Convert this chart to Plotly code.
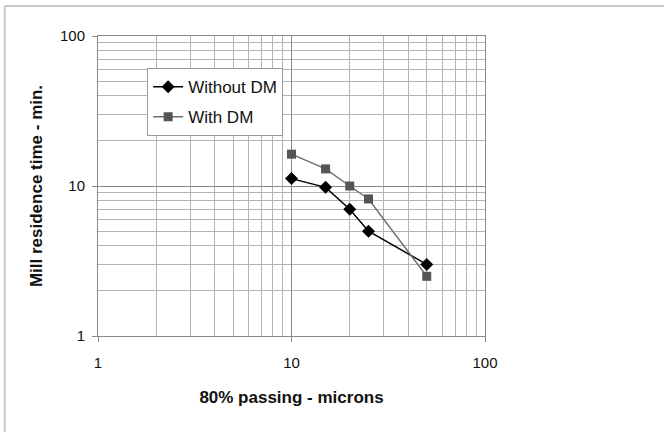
import plotly.graph_objects as go

# Data
passing_microns = [10, 15, 20, 25, 50]
without_dm = [11.2, 9.8, 7.0, 5.0, 3.0]
with_dm = [16.3, 13.0, 10.0, 8.2, 2.5]

tick_vals = [1, 10, 100]
tick_text = ["1", "10", "100"]

FONT = "Liberation Sans, Arial, sans-serif"

fig = go.Figure()
fig.add_trace(go.Scatter(
    x=passing_microns, y=without_dm, name="Without DM", mode="lines+markers",
    line=dict(color="#000000", width=1.5),
    marker=dict(symbol="diamond", size=10, color="#000000"),
    legendgroup="a",
))
fig.add_trace(go.Scatter(
    x=passing_microns, y=with_dm, name="With DM", mode="lines+markers",
    line=dict(color="#707070", width=1.5),
    marker=dict(symbol="square", size=9, color="#555555"),
    legendgroup="b",
))

axis_common = dict(
    type="log",
    tickvals=tick_vals, ticktext=tick_text,
    showgrid=True, gridcolor="#8a8a8a", gridwidth=1,
    minor=dict(showgrid=True, gridcolor="#b4b4b4", gridwidth=1, dtick="D1", ticks=""),
    showline=True, linecolor="#8a8a8a", linewidth=1, mirror=True,
    ticks="outside", ticklen=5, tickcolor="#8a8a8a",
    tickfont=dict(family=FONT, size=15, color="#111111"),
    zeroline=False,
)

fig.update_xaxes(
    range=[0, 2], **axis_common,
    title=dict(text="<b>80% passing - microns</b>", font=dict(family=FONT, size=17, color="#111111"), standoff=21),
    ticklabelstandoff=8,
)
fig.update_yaxes(
    range=[0, 2], **axis_common,
    title=dict(text="<b>Mill residence time - min.</b>", font=dict(family=FONT, size=17, color="#111111"), standoff=13),
    ticklabelstandoff=4,
)

fig.update_layout(
    width=664, height=432,
    margin=dict(l=98, r=179, t=36, b=96),
    paper_bgcolor="white", plot_bgcolor="white",
    showlegend=True,
    legend=dict(
        x=0.127, y=0.893, xanchor="left", yanchor="top",
        bgcolor="white", bordercolor="#9a9a9a", borderwidth=1,
        font=dict(family=FONT, size=17, color="#111111"),
        traceorder="grouped", tracegroupgap=5,
    ),
    shapes=[
        dict(type="line", xref="paper", yref="paper", x0=-0.241, x1=1.47, y0=1.1, y1=1.1,
             line=dict(color="#c8c8c8", width=2)),
        dict(type="line", xref="paper", yref="paper", x0=-0.241, x1=-0.241, y0=1.1, y1=-0.33,
             line=dict(color="#c8c8c8", width=2)),
    ],
)

fig.write_html(
    "out.html",
    config={"displayModeBar": False},
    post_script="document.body.style.margin='0';document.documentElement.style.overflow='hidden';",
)
